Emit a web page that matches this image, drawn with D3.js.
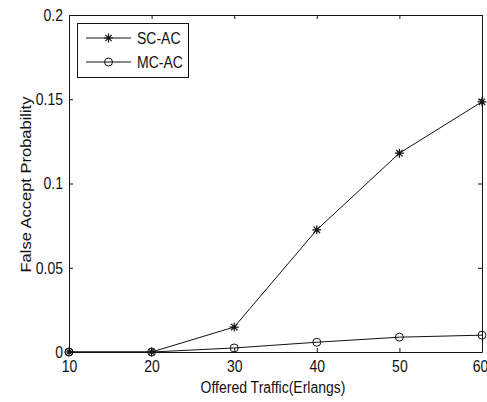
<!DOCTYPE html>
<html>
<head>
<meta charset="utf-8">
<script src="https://cdn.jsdelivr.net/npm/d3@7"></script>
<style>
  html, body { margin: 0; padding: 0; background: #fff; }
  svg text { font-family: "Liberation Sans", Arial, sans-serif; fill: #111; }
</style>
</head>
<body>
<svg id="chart" width="487" height="402"></svg>
<script>
// Offered traffic (Erlangs)
const traffic = [10, 20, 30, 40, 50, 60];
// False accept probability per scheme
const scAc = [0, 0, 0.0148, 0.0725, 0.118, 0.1485];
const mcAc = [0, 0, 0.0024, 0.0058, 0.0088, 0.0100];
const seriesNames = ["SC-AC", "MC-AC"];
const xTicks = [10, 20, 30, 40, 50, 60];
const yTicks = [0, 0.05, 0.1, 0.15, 0.2];
const yTickLabels = ["0", "0.05", "0.1", "0.15", "0.2"];

const svg = d3.select("#chart");
const m = { left: 69, right: 482, top: 15, bottom: 352 };
const ink = "#111";
const stretch = 1.17;   // glyphs are drawn tall and narrow

const x = d3.scaleLinear().domain([10, 60]).range([m.left, m.right]);
const y = d3.scaleLinear().domain([0, 0.2]).range([m.bottom, m.top]);

// Box axes with inward ticks on all four sides
const axisBottom = d3.axisBottom(x).tickValues(xTicks).tickSizeInner(-4).tickSizeOuter(0);
const axisTop = d3.axisTop(x).tickValues(xTicks).tickSizeInner(-4).tickSizeOuter(0).tickFormat("");
const axisLeft = d3.axisLeft(y).tickValues(yTicks).tickSizeInner(-4).tickSizeOuter(0).tickPadding(6)
  .tickFormat((d, i) => yTickLabels[i]);
const axisRight = d3.axisRight(y).tickValues(yTicks).tickSizeInner(-4).tickSizeOuter(0).tickFormat("");

function styleAxis(g) {
  g.selectAll("path.domain").attr("stroke", ink).attr("stroke-width", 1);
  g.selectAll(".tick line").attr("stroke", ink);
  g.selectAll(".tick text").style("font-size", "14px").attr("fill", ink);
}

const gx = svg.append("g").attr("transform", `translate(0,${m.bottom})`).call(axisBottom).call(styleAxis);
gx.selectAll(".tick text")
  .attr("y", 0).attr("dy", 0)
  // the last label sits against the right edge of the canvas
  .attr("transform", (d, i) => `translate(${i === xTicks.length - 1 ? -2 : 0},20) scale(1,${stretch})`);
svg.append("g").attr("transform", `translate(0,${m.top})`).call(axisTop).call(styleAxis);
const gy = svg.append("g").attr("transform", `translate(${m.left},0)`).call(axisLeft).call(styleAxis);
gy.selectAll(".tick text").attr("transform", `scale(1,${stretch})`);
svg.append("g").attr("transform", `translate(${m.right},0)`).call(axisRight).call(styleAxis);

// Axis titles
svg.append("text")
  .attr("transform", `translate(273,393) scale(1,${stretch})`)
  .attr("text-anchor", "middle").style("font-size", "14px")
  .text("Offered Traffic(Erlangs)");
svg.append("text")
  .attr("transform", `translate(31,${(m.top + m.bottom) / 2 + 1}) rotate(-90) scale(1.1,1)`)
  .attr("text-anchor", "middle").style("font-size", "15px")
  .text("False Accept Probability");

const line = d3.line().x(d => x(d[0])).y(d => y(d[1]));

function star(g, cx, cy, r) {
  const p = d3.path();
  for (let k = 0; k < 4; k++) {
    const a = k * Math.PI / 4;
    p.moveTo(cx - r * Math.cos(a), cy - r * Math.sin(a));
    p.lineTo(cx + r * Math.cos(a), cy + r * Math.sin(a));
  }
  g.append("path").attr("d", p.toString()).attr("stroke", ink).attr("stroke-width", 1.2).attr("fill", "none");
}
function ring(g, cx, cy, r) {
  g.append("circle").attr("cx", cx).attr("cy", cy).attr("r", r)
    .attr("fill", "none").attr("stroke", ink).attr("stroke-width", 1);
}

const plot = svg.append("g");
const scPts = traffic.map((t, i) => [t, scAc[i]]);
const mcPts = traffic.map((t, i) => [t, mcAc[i]]);

plot.append("path").attr("d", line(scPts)).attr("fill", "none").attr("stroke", ink).attr("stroke-width", 1);
plot.append("path").attr("d", line(mcPts)).attr("fill", "none").attr("stroke", ink).attr("stroke-width", 1);
scPts.forEach(d => star(plot, x(d[0]), y(d[1]), 4.5));
mcPts.forEach(d => ring(plot, x(d[0]), y(d[1]), 4));

// Legend
const lg = svg.append("g");
lg.append("rect").attr("x", 77.5).attr("y", 23.5).attr("width", 111).attr("height", 54)
  .attr("fill", "#fff").attr("stroke", ink).attr("stroke-width", 1);
const rows = [38, 62];
rows.forEach((ry, i) => {
  lg.append("line").attr("x1", 86).attr("x2", 131).attr("y1", ry).attr("y2", ry)
    .attr("stroke", ink).attr("stroke-width", 1);
  if (i === 0) star(lg, 108.5, ry, 4.5); else ring(lg, 108.5, ry, 4);
  lg.append("text")
    .attr("transform", `translate(137,${ry + 6}) scale(1,${stretch})`)
    .style("font-size", "14px").text(seriesNames[i]);
});
</script>
</body>
</html>
